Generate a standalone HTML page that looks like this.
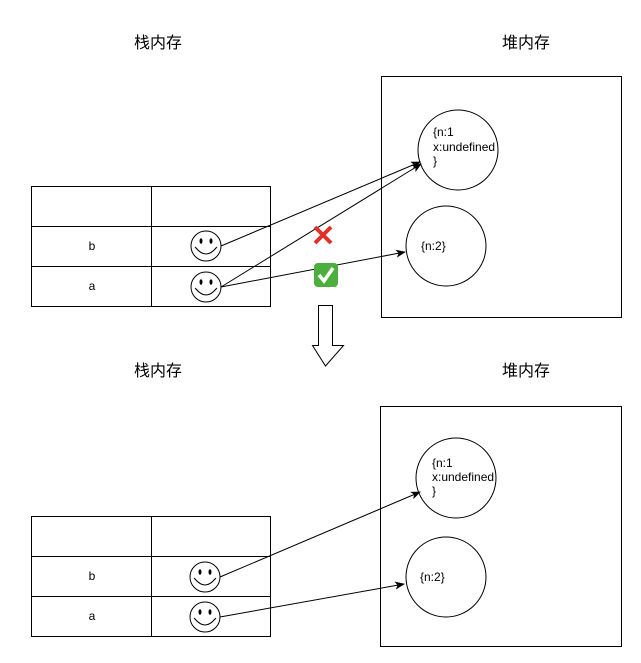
<!DOCTYPE html>
<html><head><meta charset="utf-8"><style>html,body{margin:0;padding:0;background:#fff}svg{display:block}</style></head><body>
<svg width="641" height="663" viewBox="0 0 641 663" xmlns="http://www.w3.org/2000/svg" font-family="Liberation Sans, Noto Sans CJK SC, sans-serif">
<defs>
<g id="sm"><circle r="15" fill="#fff" stroke="#000" stroke-width="1"/><ellipse cx="-5" cy="-5" rx="1.5" ry="2.8" fill="#000"/><ellipse cx="5" cy="-5" rx="1.5" ry="2.8" fill="#000"/><path d="M-10 2 Q0 14 10 2" fill="none" stroke="#000"/><path d="M-11 1 l2 2 M11 1 l-2 2" stroke="#000"/></g>
<marker id="ar" markerWidth="10" markerHeight="8" refX="9" refY="4" orient="auto" markerUnits="userSpaceOnUse"><path d="M0 0 L10 4 L0 8 L2.5 4 Z" fill="#000"/></marker>
</defs>
<g fill="#000" font-size="16" text-anchor="middle">
<text x="158" y="48">栈内存</text><text x="526" y="48">堆内存</text>
<text x="158" y="376">栈内存</text><text x="526" y="376">堆内存</text>
</g>
<g fill="none" stroke="#000" stroke-width="1">
<rect x="31.5" y="186.5" width="239" height="120"/><line x1="31" y1="226.5" x2="271" y2="226.5"/><line x1="31" y1="266.5" x2="271" y2="266.5"/><line x1="151.5" y1="186" x2="151.5" y2="306"/>
<rect x="381.5" y="76.5" width="240" height="241"/>
<circle cx="458" cy="150" r="40"/><circle cx="446" cy="246" r="40"/>
<rect x="31.5" y="516.5" width="239" height="120"/><line x1="31" y1="556.5" x2="271" y2="556.5"/><line x1="31" y1="596.5" x2="271" y2="596.5"/><line x1="151.5" y1="516" x2="151.5" y2="636"/>
<rect x="380.5" y="406.5" width="241" height="240"/>
<circle cx="456" cy="478" r="40"/><circle cx="446" cy="577" r="40"/>
<path d="M318.5 305.5 H332.5 V345.5 H343.5 L325.5 366 L312.5 345.5 H318.5 Z" fill="#fff"/>
</g>
<use href="#sm" x="206" y="246"/><use href="#sm" x="206" y="287"/>
<use href="#sm" x="205" y="577"/><use href="#sm" x="205" y="617"/>
<g stroke="#000" fill="none" marker-end="url(#ar)">
<line x1="221" y1="246" x2="420" y2="162"/><line x1="221" y1="287" x2="421" y2="164"/><line x1="221" y1="287" x2="405" y2="252"/>
<line x1="220" y1="577" x2="420" y2="492"/><line x1="220" y1="617" x2="404" y2="584"/>
</g>
<g font-size="12" fill="#000">
<text x="92" y="250" text-anchor="middle">b</text><text x="92" y="290" text-anchor="middle">a</text>
<text x="92" y="580" text-anchor="middle">b</text><text x="92" y="620" text-anchor="middle">a</text>
<text x="433" y="136">{n:1</text><text x="433" y="151">x:undefined</text><text x="433" y="165">}</text>
<text x="421" y="250">{n:2}</text>
<text x="432" y="467">{n:1</text><text x="432" y="481">x:undefined</text><text x="432" y="495">}</text>
<text x="420" y="581">{n:2}</text>
</g>
<path d="M315 227 L331 243 M331 227 L315 243" stroke="#e0302a" stroke-width="4"/>
<rect x="314" y="263" width="24" height="24" rx="4" fill="#4caf3d"/>
<path d="M319 275 L324 281 L333 268" stroke="#fff" stroke-width="3.5" fill="none"/>
</svg>
</body></html>
